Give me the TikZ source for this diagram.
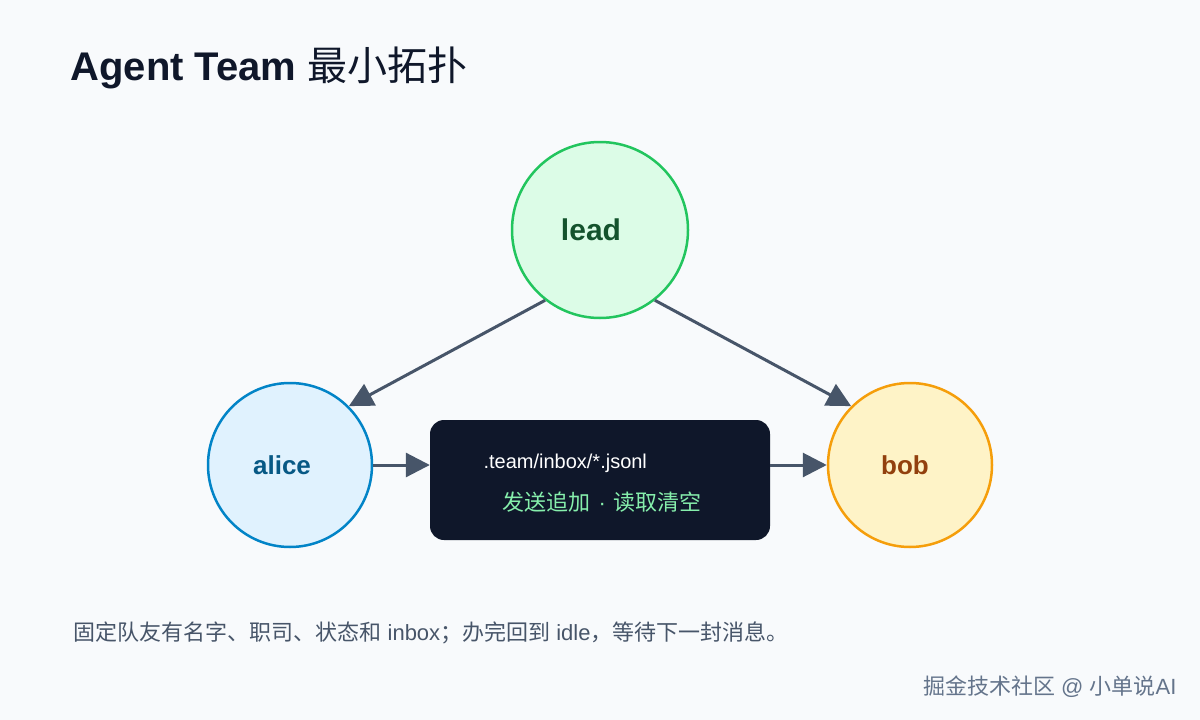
\documentclass[tikz,border=0pt]{standalone}
\usepackage{fontspec}
\setmainfont{Liberation Sans}
\newfontfamily\cjk{Noto Sans CJK SC}
\usetikzlibrary{arrows.meta}
\definecolor{bg}{HTML}{F8FAFC}
\definecolor{ink}{HTML}{0F172A}
\definecolor{edge}{HTML}{475569}
\definecolor{gfill}{HTML}{DCFCE7}\definecolor{gline}{HTML}{22C55E}\definecolor{gtext}{HTML}{14532D}
\definecolor{bfill}{HTML}{E0F2FE}\definecolor{bline}{HTML}{0284C7}\definecolor{btext}{HTML}{075985}
\definecolor{yfill}{HTML}{FEF3C7}\definecolor{yline}{HTML}{F59E0B}\definecolor{ytext}{HTML}{92400E}
\definecolor{mint}{HTML}{86EFAC}\definecolor{wmc}{HTML}{64748B}
\begin{document}
\begin{tikzpicture}[x=1pt,y=-1pt,
  circ/.style={circle,line width=2.5pt,inner sep=0pt,font=\bfseries},
  conn/.style={draw=edge,line width=3pt,-{Triangle[length=24pt,width=24pt]}}]
\fill[bg] (0,0) rectangle (1200,720);
\useasboundingbox (0,0) rectangle (1200,720);
\node[anchor=base west,text=ink,font=\fontsize{40}{44}\selectfont] (title) at (67,80) {\textbf{Agent Team} {\cjk 最小拓扑}};
\node[circ,minimum size=176pt,fill=gfill,draw=gline] (lead) at (600,230) {};
\node[font=\bfseries\fontsize{30}{34}\selectfont,text=gtext] (leadt) at (591,230) {lead};
\node[circ,minimum size=164pt,fill=bfill,draw=bline] (alice) at (290,465) {};
\node[font=\bfseries\fontsize{26}{30}\selectfont,text=btext] (alicet) at (282,465) {alice};
\node[circ,minimum size=164pt,fill=yfill,draw=yline] (bob) at (910,465) {};
\node[font=\bfseries\fontsize{26}{30}\selectfont,text=ytext] (bobt) at (905,465) {bob};
\node[fill=ink,rounded corners=14pt,minimum width=340pt,minimum height=120pt,inner sep=0pt] (box) at (600,480) {};
\node[anchor=base west,text=white,font=\fontsize{20}{24}\selectfont] (t1) at (480,468) {.team/inbox/*.jsonl};
\node[anchor=base west,text=mint,font=\cjk\fontsize{22}{26}\selectfont] (t2) at (499,510) {发送追加\hspace{8pt}{\rmfamily ·}\hspace{8pt}读取清空};
\draw[conn] (lead.232) -- (alice.45);
\draw[conn] (lead.308) -- (bob.135);
\draw[conn] (alice.east) -- (alice.east -| box.west);
\draw[conn] (bob.west -| box.east) -- (bob.west);
\node[anchor=base west,text=edge,font=\fontsize{22}{26}\selectfont] (note) at (70,640) {{\cjk 固定队友有名字、职司、状态和} inbox{\cjk ；}{\cjk 办完回到} idle{\cjk ，}{\cjk 等待下一封消息。}};
\node[anchor=base east,text=wmc,font=\fontsize{22}{26}\selectfont] (wm) at (1180,694) {{\cjk 掘金技术社区} @ {\cjk 小单说}AI};
\end{tikzpicture}
\end{document}
